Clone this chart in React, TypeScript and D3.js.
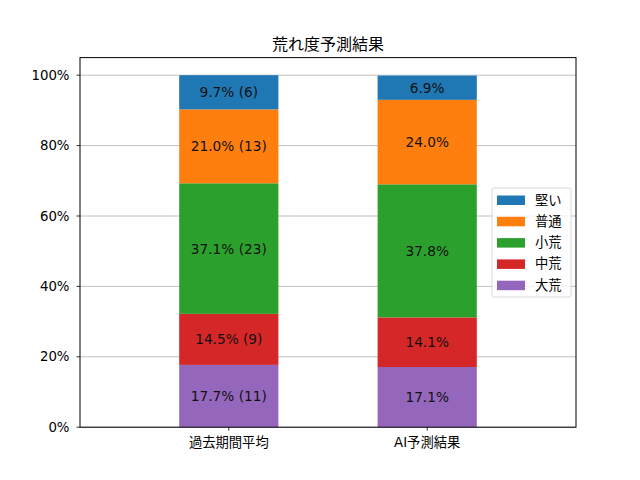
import React, { useEffect } from "react";
import * as d3 from "d3";

const categories = ["過去期間平均", "AI予測結果"];
const seriesNames = ["大荒", "中荒", "小荒", "普通", "堅い"];
const seriesColors = ["#9467bd", "#d62728", "#2ca02c", "#ff7f0e", "#1f77b4"];
const pastPercent = [17.7, 14.5, 37.1, 21.0, 9.7];
const pastCounts = [11, 9, 23, 13, 6];
const aiPercent = [17.1, 14.1, 37.8, 24.0, 6.9];
const yTicks = [0, 20, 40, 60, 80, 100];
const title = "荒れ度予測結果";

const W = 640;
const H = 480;
const M = { left: 80, right: 576, top: 57.6, bottom: 427.2 };
const FONT = "'DejaVu Sans', 'Noto Sans CJK JP', sans-serif";

export default function App() {
  useEffect(() => {
    document.body.style.margin = "0";
  }, []);

  const x = d3.scaleLinear().domain([-0.75, 1.75]).range([M.left, M.right]);
  const y = d3.scaleLinear().domain([0, 105]).range([M.bottom, M.top]);
  const barW = x(0.5) - x(0);

  const data = [
    { values: pastPercent, counts: pastCounts as (number | null)[] },
    { values: aiPercent, counts: aiPercent.map(() => null) as (number | null)[] },
  ];

  const stacks = data.map((d) => {
    let acc = 0;
    return d.values.map((v, i) => {
      const y0 = acc;
      acc += v;
      return { y0, y1: acc, v, c: d.counts[i], i };
    });
  });

  const legendItems = seriesNames.map((n, i) => ({ n, c: seriesColors[i] })).reverse();
  const lx = 492;
  const ly = 188;

  return (
    <svg width={W} height={H} style={{ display: "block", fontFamily: FONT }}>
      <rect width={W} height={H} fill="#fff" />
      {yTicks.map((t) => (
        <line key={"g" + t} x1={M.left} x2={M.right} y1={y(t)} y2={y(t)} stroke="#b0b0b0" strokeWidth={0.8} />
      ))}
      {stacks.map((st, ci) =>
        st.map((s) => (
          <rect
            key={ci + "-" + s.i}
            x={x(ci) - barW / 2}
            width={barW}
            y={y(s.y1)}
            height={y(s.y0) - y(s.y1)}
            fill={seriesColors[s.i]}
          />
        ))
      )}
      {stacks.map((st, ci) =>
        st.map((s) => (
          <text
            key={"t" + ci + "-" + s.i}
            x={x(ci)}
            y={y((s.y0 + s.y1) / 2)}
            textAnchor="middle"
            dominantBaseline="central"
            fontSize={13.7}
            fill="#111"
          >
            {s.v.toFixed(1) + "%" + (s.c !== null ? ` (${s.c})` : "")}
          </text>
        ))
      )}
      <rect
        x={M.left}
        y={M.top}
        width={M.right - M.left}
        height={M.bottom - M.top}
        fill="none"
        stroke="#000"
        strokeWidth={1}
      />
      {yTicks.map((t) => (
        <g key={"yt" + t}>
          <line x1={M.left - 3.5} x2={M.left} y1={y(t)} y2={y(t)} stroke="#000" strokeWidth={0.8} />
          <text x={M.left - 10.5} y={y(t)} textAnchor="end" dominantBaseline="central" fontSize={13.3} fill="#000">
            {t + "%"}
          </text>
        </g>
      ))}
      {categories.map((c, i) => (
        <g key={"xt" + i}>
          <line x1={x(i)} x2={x(i)} y1={M.bottom} y2={M.bottom + 3.5} stroke="#000" strokeWidth={0.8} />
          <text x={x(i)} y={M.bottom + 19.5} textAnchor="middle" fontSize={13.3} fill="#000">
            {c}
          </text>
        </g>
      ))}
      <text x={(M.left + M.right) / 2} y={50} textAnchor="middle" fontSize={16} fill="#000">
        {title}
      </text>
      <rect x={lx} y={ly} width={79} height={109} rx={2} fill="#fff" fillOpacity={0.8} stroke="#d9d9d9" strokeWidth={1} />
      {legendItems.map((it, k) => {
        const cy = ly + 12 + k * 21.3;
        return (
          <g key={"l" + k}>
            <rect x={lx + 5} y={cy - 4.5} width={28} height={9.5} fill={it.c} />
            <text x={lx + 43} y={cy} dominantBaseline="central" fontSize={13.3} fill="#000">
              {it.n}
            </text>
          </g>
        );
      })}
    </svg>
  );
}
